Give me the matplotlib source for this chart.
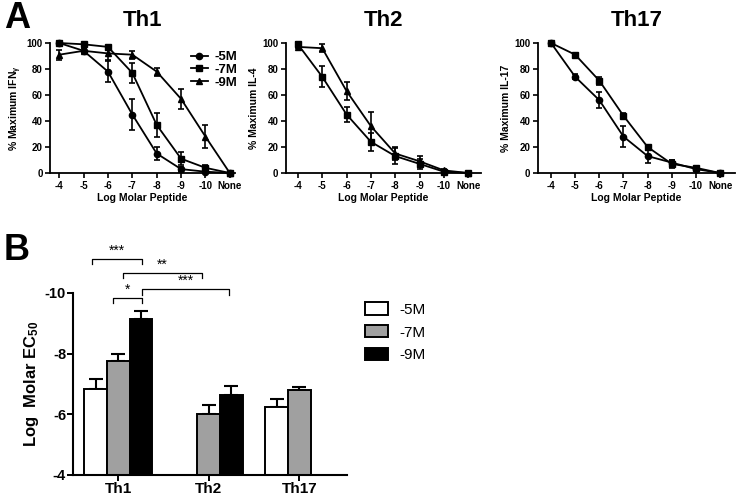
import numpy as np
import matplotlib
matplotlib.use('Agg')
import matplotlib.pyplot as plt
from matplotlib.lines import Line2D

plt.rcParams['font.family'] = ['Liberation Sans', 'DejaVu Sans']
plt.rcParams['font.weight'] = 'bold'
plt.rcParams['axes.unicode_minus'] = False
plt.rcParams['mathtext.fontset'] = 'custom'
plt.rcParams['mathtext.rm'] = 'Liberation Sans:bold'
plt.rcParams['mathtext.it'] = 'Liberation Sans:bold'
plt.rcParams['mathtext.bf'] = 'Liberation Sans:bold'

# Panel A data
peptide_labels = ['-4', '-5', '-6', '-7', '-8', '-9', '-10', 'None']

th1_5m = [100, 94, 78, 45, 15, 3, 1, 0]
th1_5m_err = [0, 2, 8, 12, 5, 2, 1, 0]
th1_7m = [100, 99, 97, 77, 37, 11, 4, 0]
th1_7m_err = [1, 1, 1, 8, 9, 5, 2, 0]
th1_9m = [91, 94, 92, 91, 78, 57, 28, 0]
th1_9m_err = [4, 2, 5, 3, 3, 8, 9, 0]

th2_7m = [99, 74, 45, 24, 13, 7, 1, 0]
th2_7m_err = [2, 8, 6, 7, 6, 4, 1, 0]
th2_9m = [97, 96, 63, 36, 15, 9, 2, 0]
th2_9m_err = [1, 3, 7, 11, 5, 4, 1, 0]

th17_5m = [100, 74, 56, 28, 13, 8, 3, 0]
th17_5m_err = [0, 2, 6, 8, 5, 2, 1, 0]
th17_7m = [100, 91, 71, 44, 20, 7, 4, 0]
th17_7m_err = [0, 1, 3, 2, 1, 3, 1, 0]

# Panel B data (Log molar EC50), None = no bar
groups = ['Th1', 'Th2', 'Th17']
ec50_5m = [-6.85, None, -6.25]
ec50_5m_err = [0.3, None, 0.25]
ec50_7m = [-7.75, -6.0, -6.8]
ec50_7m_err = [0.25, 0.3, 0.1]
ec50_9m = [-9.15, -6.65, None]
ec50_9m_err = [0.25, 0.3, None]

fig = plt.figure(figsize=(7.38, 5.0), dpi=100)

x = np.arange(len(peptide_labels))
markers = {'-5M': 'o', '-7M': 's', '-9M': '^'}


def curve_panel(ax, series, title, ylabel, xlim):
    for label, vals, errs in series:
        ax.errorbar(x, vals, yerr=errs, color='black', marker=markers[label],
                    markersize=4.5, linewidth=1.3, elinewidth=1.2, capsize=2.5,
                    capthick=1.2, clip_on=False, zorder=3)
    ax.set_xlim(*xlim)
    ax.set_ylim(0, 100)
    ax.set_yticks([0, 20, 40, 60, 80, 100])
    ax.set_xticks(x)
    ax.set_xticklabels(peptide_labels)
    for s in ['top', 'right']:
        ax.spines[s].set_visible(False)
    for s in ['left', 'bottom']:
        ax.spines[s].set_linewidth(1.3)
    ax.tick_params(labelsize=7, width=1.2, length=3.5, pad=2)
    ax.set_xlabel('Log Molar Peptide', fontsize=7.5, fontweight='bold', labelpad=2)
    ax.set_ylabel(ylabel, fontsize=7.5, fontweight='bold', labelpad=2)
    ax.set_title(title, fontsize=16, fontweight='bold', pad=12)


ax1 = fig.add_axes([0.068, 0.654, 0.250, 0.26])
curve_panel(ax1, [('-5M', th1_5m, th1_5m_err), ('-7M', th1_7m, th1_7m_err),
                  ('-9M', th1_9m, th1_9m_err)],
            'Th1', '% Maximum IFN$_\\gamma$', (-0.37, 7.2))
handles = [Line2D([], [], color='black', marker=markers[k], markersize=4.5,
                  linewidth=1.3, label=k) for k in ['-5M', '-7M', '-9M']]
leg = ax1.legend(handles=handles, loc='upper right', bbox_to_anchor=(1.05, 0.99),
                 frameon=False, fontsize=9.5, handlelength=1.3, handletextpad=0.5,
                 labelspacing=0.05, borderpad=0)
for t in leg.get_texts():
    t.set_fontweight('bold')

ax2 = fig.add_axes([0.3875, 0.654, 0.2645, 0.26])
curve_panel(ax2, [('-7M', th2_7m, th2_7m_err), ('-9M', th2_9m, th2_9m_err)],
            'Th2', '% Maximum IL-4', (-0.49, 7.53))

ax3 = fig.add_axes([0.729, 0.654, 0.267, 0.26])
curve_panel(ax3, [('-5M', th17_5m, th17_5m_err), ('-7M', th17_7m, th17_7m_err)],
            'Th17', '% Maximum IL-17', (-0.54, 7.62))

# Panel B
axb = fig.add_axes([0.0989, 0.05, 0.371, 0.364])
group_pos = np.array([0, 4, 8])
series_b = [('-5M', ec50_5m, ec50_5m_err, 'white'),
            ('-7M', ec50_7m, ec50_7m_err, '#a0a0a0'),
            ('-9M', ec50_9m, ec50_9m_err, 'black')]
for i, (label, vals, errs, color) in enumerate(series_b):
    for g, v, e in zip(group_pos, vals, errs):
        if v is None:
            continue
        xp = g + i
        axb.bar(xp, v + 4, bottom=-4, width=1.0, color=color, edgecolor='black',
                linewidth=1.4, zorder=2)
        axb.errorbar(xp, v, yerr=[[e], [0]], color='black', elinewidth=1.5,
                     capsize=5, capthick=1.5, zorder=1)
    axb.bar(0, 0, color=color, edgecolor='black', linewidth=1.4, label=label)

axb.set_ylim(-4, -10)
axb.set_xlim(-1, 11.1)
axb.set_yticks([-4, -6, -8, -10])
axb.set_xticks(group_pos + 1)
axb.set_xticklabels(groups)
for s in ['top', 'right']:
    axb.spines[s].set_visible(False)
for s in ['left', 'bottom']:
    axb.spines[s].set_linewidth(1.5)
axb.tick_params(axis='y', labelsize=10.5, width=1.4, length=4, pad=1)
axb.tick_params(axis='x', labelsize=11, width=1.4, length=4, pad=1)
axb.set_ylabel('Log  Molar EC$_{50}$', fontsize=12, fontweight='bold', labelpad=3)

brackets = [(-0.15, 2.05, -11.12, '***'), (1.2, 4.7, -10.66, '**'),
            (2.05, 5.9, -10.13, '***'), (0.75, 2.05, -9.84, '*')]
for x1, x2, yb, txt in brackets:
    axb.plot([x1, x1, x2, x2], [yb + 0.18, yb, yb, yb + 0.18], color='black',
             linewidth=0.9, clip_on=False)
    axb.text((x1 + x2) / 2, yb - 0.05, txt, ha='center', va='bottom',
             fontsize=10, fontweight='normal', clip_on=False)

legb = axb.legend(loc='upper left', bbox_to_anchor=(1.04, 0.99), frameon=False,
                  fontsize=11, handlelength=1.45, handleheight=0.85,
                  handletextpad=0.75, labelspacing=0.55, borderpad=0)
for t in legb.get_texts():
    t.set_fontweight('normal')

fig.text(0.005, 0.998, 'A', fontsize=26, fontweight='bold', va='top')
fig.text(0.005, 0.535, 'B', fontsize=26, fontweight='bold', va='top')

fig.savefig('out.png', dpi=100)
